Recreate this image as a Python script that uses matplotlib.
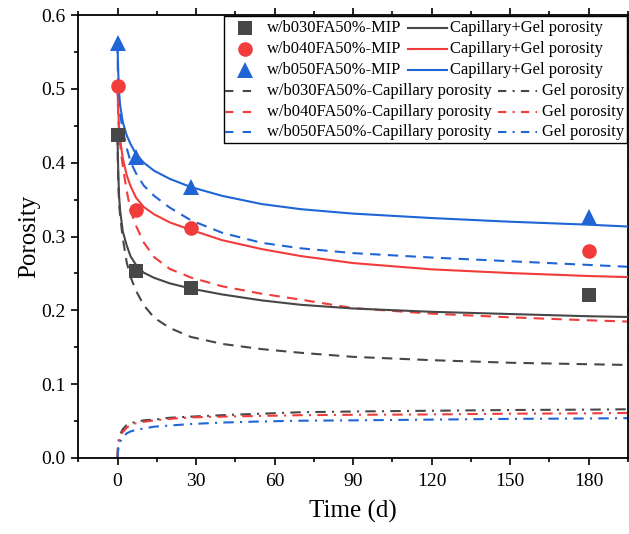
import matplotlib
matplotlib.use("Agg")
import matplotlib.pyplot as plt
from matplotlib.lines import Line2D
from matplotlib.patches import Rectangle
from matplotlib.ticker import MultipleLocator

# ---------------- data ----------------
mip_days = [0, 7, 28, 180]
mip_030 = [0.438, 0.253, 0.230, 0.221]
mip_040 = [0.504, 0.336, 0.312, 0.280]
mip_050 = [0.562, 0.408, 0.367, 0.326]

t_model = [0, 0.1, 0.3, 0.6, 1, 2, 3.5, 5, 7, 10, 14, 20, 28, 40, 55, 70, 90, 120, 150, 180, 195]

total_030 = [0.438, 0.415, 0.385, 0.355, 0.335, 0.307, 0.288, 0.273, 0.262, 0.251, 0.244,
             0.2365, 0.2295, 0.2215, 0.2135, 0.2075, 0.2025, 0.198, 0.195, 0.192, 0.191]
total_040 = [0.504, 0.490, 0.468, 0.447, 0.432, 0.406, 0.383, 0.368, 0.353, 0.340, 0.330,
             0.319, 0.309, 0.295, 0.283, 0.2735, 0.264, 0.2555, 0.2505, 0.2465, 0.245]
total_050 = [0.562, 0.545, 0.520, 0.495, 0.478, 0.455, 0.437, 0.425, 0.412, 0.400, 0.389,
             0.378, 0.367, 0.355, 0.344, 0.337, 0.331, 0.325, 0.320, 0.316, 0.3135]

cap_030 = [0.438, 0.405, 0.370, 0.345, 0.328, 0.298, 0.265, 0.245, 0.227, 0.207, 0.190,
           0.176, 0.164, 0.1545, 0.1475, 0.1425, 0.137, 0.1325, 0.129, 0.127, 0.126]
cap_040 = [0.504, 0.485, 0.460, 0.440, 0.425, 0.395, 0.362, 0.335, 0.315, 0.292, 0.272,
           0.256, 0.2445, 0.2325, 0.2225, 0.2145, 0.203, 0.1955, 0.1905, 0.1865, 0.1848]
cap_050 = [0.562, 0.530, 0.495, 0.477, 0.465, 0.445, 0.420, 0.401, 0.386, 0.369, 0.355,
           0.339, 0.322, 0.305, 0.2915, 0.284, 0.2775, 0.2715, 0.2665, 0.2615, 0.259]

gel_030 = [0.0, 0.012, 0.020, 0.027, 0.032, 0.039, 0.0447, 0.047, 0.049, 0.051, 0.052,
           0.0545, 0.056, 0.058, 0.060, 0.062, 0.063, 0.064, 0.065, 0.0655, 0.066]
gel_040 = [0.0, 0.010, 0.018, 0.025, 0.030, 0.035, 0.041, 0.045, 0.047, 0.049, 0.051,
           0.053, 0.055, 0.056, 0.057, 0.058, 0.0585, 0.059, 0.060, 0.0605, 0.061]
gel_050 = [0.0, 0.006, 0.012, 0.018, 0.022, 0.028, 0.0334, 0.036, 0.038, 0.040, 0.0424,
           0.044, 0.046, 0.048, 0.0495, 0.0505, 0.051, 0.052, 0.053, 0.0535, 0.054]

labels_mip = ["w/b030FA50%-MIP", "w/b040FA50%-MIP", "w/b050FA50%-MIP"]
labels_cap = ["w/b030FA50%-Capillary porosity", "w/b040FA50%-Capillary porosity",
              "w/b050FA50%-Capillary porosity"]
label_total = "Capillary+Gel porosity"
label_gel = "Gel porosity"

x_ticks = [0, 30, 60, 90, 120, 150, 180]
y_ticks = [0.0, 0.1, 0.2, 0.3, 0.4, 0.5, 0.6]

# ---------------- style ----------------
colors = ["#474747", "#F23B3B", "#1F65D6"]
markers = ["s", "o", "^"]
msizes = [9.5, 10.5, 11.5]
LW = 1.5
DASH = (5, 3.5)
DASHDOT = (5, 3, 1, 3)

plt.rcParams["font.family"] = ["Liberation Serif", "DejaVu Serif"]

W, H = 629, 534
fig = plt.figure(figsize=(W / 100, H / 100), dpi=100)
AX_L, AX_R, AX_T, AX_B = 78, 628, 15, 458
ax = fig.add_axes([AX_L / W, 1 - AX_B / H, (AX_R - AX_L) / W, (AX_B - AX_T) / H])

mips = [mip_030, mip_040, mip_050]
totals = [total_030, total_040, total_050]
caps = [cap_030, cap_040, cap_050]
gels = [gel_030, gel_040, gel_050]

for i in range(3):
    c = colors[i]
    ax.plot(t_model, gels[i], color=c, lw=LW, linestyle=(0, DASHDOT), zorder=2)
    ax.plot(t_model, caps[i], color=c, lw=LW, linestyle=(0, DASH), zorder=2)
    ax.plot(t_model, totals[i], color=c, lw=LW, linestyle="-", zorder=3)
    ax.plot(mip_days, mips[i], linestyle="none", marker=markers[i], ms=msizes[i],
            color=c, markeredgewidth=0, zorder=4)

ax.set_xlim(-15.1, 195)
ax.set_ylim(0, 0.6)
ax.set_xticks(x_ticks)
ax.set_yticks(y_ticks)
ax.set_yticklabels([f"{v:.1f}" for v in y_ticks])
ax.xaxis.set_minor_locator(MultipleLocator(15))
ax.yaxis.set_minor_locator(MultipleLocator(0.05))
ax.tick_params(which="both", direction="out", top=True, right=True,
               labeltop=False, labelright=False, width=1.2, color="black")
ax.tick_params(which="major", length=5, labelsize=14)
ax.tick_params(axis="x", which="major", pad=6)
ax.tick_params(axis="y", which="major", pad=4)
ax.tick_params(which="minor", length=3)
for s in ax.spines.values():
    s.set_linewidth(1.3)

ax.set_xlabel("Time (d)", fontsize=18, labelpad=7)
ax.set_ylabel("Porosity", fontsize=18, labelpad=1)

# ---------------- legend (drawn manually, Origin style) ----------------
def fx(px):
    return (px - AX_L) / (AX_R - AX_L)

def fy(py):
    return (AX_B - py) / (AX_B - AX_T)

tr = ax.transAxes
box = Rectangle((fx(224), fy(143.3)), fx(627) - fx(224), fy(16) - fy(143.3),
                transform=tr, facecolor="white", edgecolor="black", lw=1.0,
                zorder=10, clip_on=False)
ax.add_patch(box)

row_y = [28.3, 49.3, 70.0, 90.7, 111.7, 132.3]
LEG_FS = 11.9
for i in range(3):
    c = colors[i]
    y = fy(row_y[i])
    ax.add_line(Line2D([fx(245)], [y], marker=markers[i], ms=msizes[i], color=c,
                       markeredgewidth=0, linestyle="none", transform=tr, zorder=11,
                       clip_on=False))
    ax.text(fx(266.7), y, labels_mip[i], transform=tr, fontsize=LEG_FS, va="center",
            ha="left", zorder=11)
    ax.add_line(Line2D([fx(408), fx(447)], [y, y], color=c, lw=LW, transform=tr,
                       zorder=11, clip_on=False))
    ax.text(fx(450), y, label_total, transform=tr, fontsize=LEG_FS, va="center",
            ha="left", zorder=11)

    y2 = fy(row_y[i + 3])
    ax.add_line(Line2D([fx(225), fx(256)], [y2, y2], color=c, lw=LW,
                       linestyle=(0, (4, 4.5)), transform=tr, zorder=11, clip_on=False))
    ax.text(fx(266.7), y2, labels_cap[i], transform=tr, fontsize=LEG_FS, va="center",
            ha="left", zorder=11)
    ax.add_line(Line2D([fx(498), fx(537)], [y2, y2], color=c, lw=LW,
                       linestyle=(0, (4, 3, 1, 3)), transform=tr, zorder=11,
                       clip_on=False))
    ax.text(fx(541.7), y2, label_gel, transform=tr, fontsize=LEG_FS, va="center",
            ha="left", zorder=11)

fig.savefig("out.png", dpi=100)
